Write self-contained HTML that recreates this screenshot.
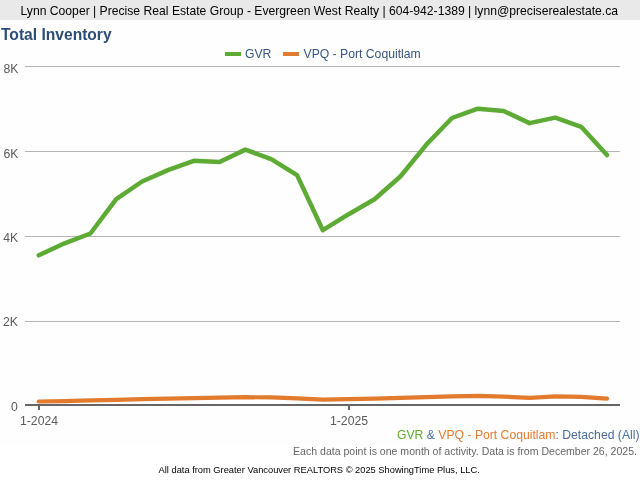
<!DOCTYPE html>
<html>
<head>
<meta charset="utf-8">
<style>
html,body{margin:0;padding:0;width:640px;height:480px;overflow:hidden;background:#ffffff;}
svg{display:block;will-change:transform;}
text{font-family:"Liberation Sans",sans-serif;}
</style>
</head>
<body>
<svg width="640" height="480" viewBox="0 0 640 480">
  <!-- chart background -->
  <rect x="0" y="20" width="640" height="424.5" fill="#fefefe"/>
  <!-- header bar -->
  <rect x="0" y="0" width="640" height="20" fill="#e9e9e9"/>
  <text x="319.3" y="15" font-size="12.17" fill="#000000" text-anchor="middle">Lynn Cooper | Precise Real Estate Group - Evergreen West Realty | 604-942-1389 | lynn@preciserealestate.ca</text>

  <!-- title -->
  <text x="1" y="39.5" font-size="15.6" font-weight="bold" fill="#2c4d76">Total Inventory</text>

  <!-- legend -->
  <rect x="225" y="52" width="16" height="4" fill="#5daa35"/>
  <text x="245" y="57.7" font-size="12.2" fill="#375680">GVR</text>
  <rect x="283" y="52" width="16" height="4" fill="#e37b2f"/>
  <text x="303.5" y="57.7" font-size="12.2" fill="#375680">VPQ - Port Coquitlam</text>

  <!-- gridlines -->
  <g stroke="#b4b4b4" stroke-width="1" shape-rendering="crispEdges">
    <line x1="25" y1="66.5" x2="620" y2="66.5"/>
    <line x1="25" y1="151.5" x2="620" y2="151.5"/>
    <line x1="25" y1="236.5" x2="620" y2="236.5"/>
    <line x1="25" y1="321.5" x2="620" y2="321.5"/>
  </g>
  <!-- y labels -->
  <g font-size="12.2" fill="#5a5a5a" text-anchor="end">
    <text x="18.5" y="73">8K</text>
    <text x="18.5" y="158">6K</text>
    <text x="18.2" y="242">4K</text>
    <text x="18" y="326">2K</text>
    <text x="17.8" y="410.5">0</text>
  </g>

  <!-- lines -->
  <polyline fill="none" stroke="#e37b2f" stroke-width="4.2" stroke-linejoin="round" stroke-linecap="round"
    points="38.75,401.50 64.58,401.10 90.41,400.40 116.24,399.80 142.07,399.20 167.90,398.60 193.73,398.10 219.56,397.60 245.39,397.20 271.22,397.40 297.05,398.40 322.88,399.60 348.71,399.10 374.54,398.60 400.37,397.90 426.20,397.10 452.03,396.40 477.86,395.90 503.69,396.60 529.52,397.80 555.35,396.40 581.18,396.90 607.01,398.60"/>
  <polyline fill="none" stroke="#5daa35" stroke-width="4.5" stroke-linejoin="round" stroke-linecap="round"
    points="38.75,255.30 64.58,243.30 90.41,233.50 116.24,199.20 142.07,181.50 167.90,170.10 193.73,160.80 219.56,162.00 245.39,149.65 271.22,159.05 297.05,175.15 322.88,230.20 348.71,214.20 374.54,199.25 400.37,176.50 426.20,144.80 452.03,118.00 477.86,108.70 503.69,111.00 529.52,123.15 555.35,117.65 581.18,126.85 607.01,155.00"/>

  <!-- x axis -->
  <rect x="25" y="404" width="595" height="2" fill="#666666"/>
  <rect x="38" y="404" width="2" height="6" fill="#666666"/>
  <rect x="348" y="404" width="2" height="6" fill="#666666"/>
  <g font-size="12.2" fill="#5a5a5a" text-anchor="middle">
    <text x="39" y="424.5">1-2024</text>
    <text x="349" y="424.5">1-2025</text>
  </g>

  <!-- footer -->
  <text x="639.5" y="438.7" font-size="12.2" text-anchor="end"><tspan fill="#5daa35">GVR</tspan><tspan fill="#4a6c9e"> &amp; </tspan><tspan fill="#e37b2f">VPQ - Port Coquitlam</tspan><tspan fill="#4a6c9e">: Detached (All)</tspan></text>
  <text x="637" y="454.8" font-size="10.55" fill="#666666" text-anchor="end">Each data point is one month of activity. Data is from December 26, 2025.</text>
  <text x="319.2" y="472.9" font-size="9.3" fill="#000000" text-anchor="middle">All data from Greater Vancouver REALTORS © 2025 ShowingTime Plus, LLC.</text>
</svg>
</body>
</html>
